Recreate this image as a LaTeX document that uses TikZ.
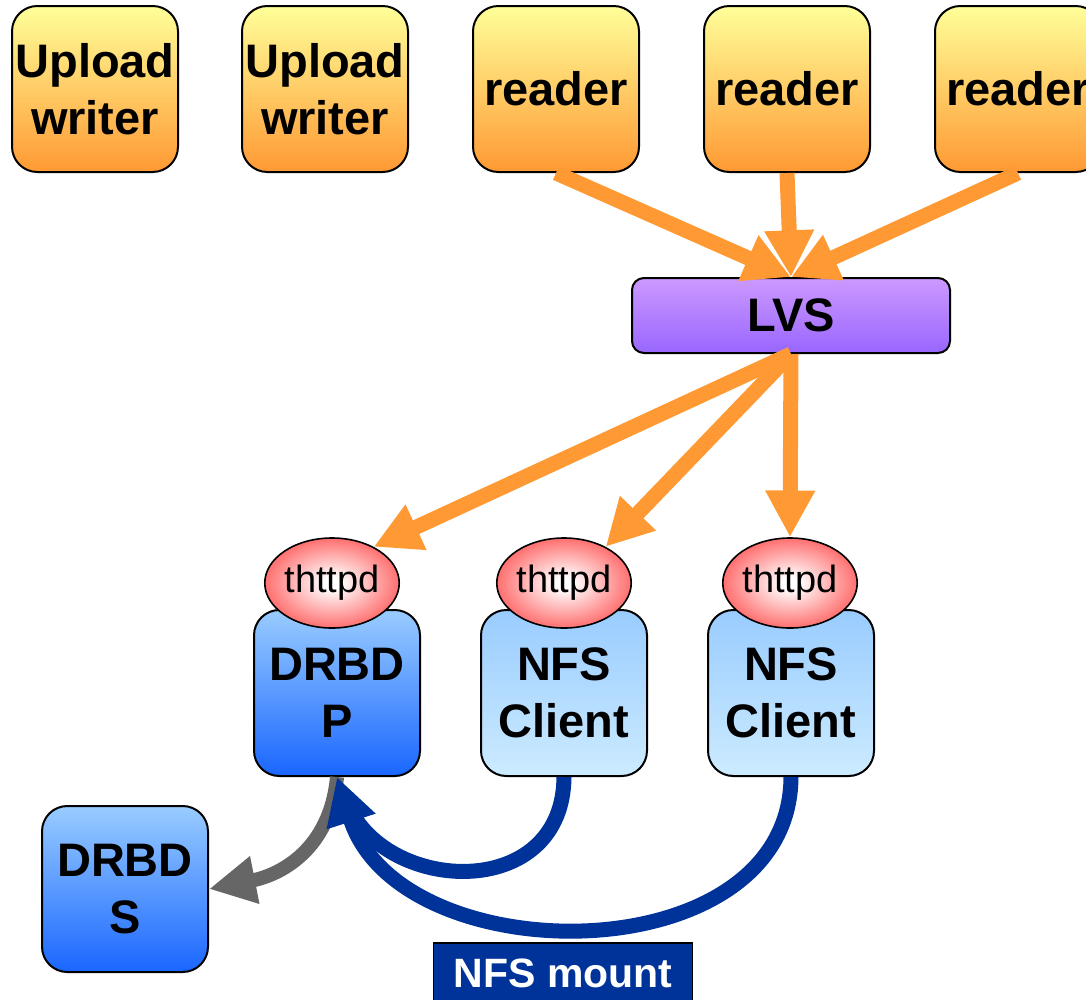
\documentclass[tikz,border=0pt]{standalone}
\usepackage{fontspec}
\setmainfont{Liberation Sans}
\usetikzlibrary{arrows.meta,shapes.geometric}
\definecolor{ytop}{HTML}{FFFF99}
\definecolor{ybot}{HTML}{FF9933}
\definecolor{oarr}{HTML}{FF9933}
\definecolor{ltop}{HTML}{CC99FF}
\definecolor{lbot}{HTML}{9966FF}
\definecolor{btop}{HTML}{99CCFF}
\definecolor{bbot}{HTML}{1A66FF}
\definecolor{ctop}{HTML}{99CCFF}
\definecolor{cbot}{HTML}{CCEBFF}
\definecolor{nblue}{HTML}{003399}
\definecolor{garr}{HTML}{666666}
\definecolor{thred}{HTML}{FF3B3B}
\pgfdeclareradialshading{thball}{\pgfpoint{0bp}{0bp}}{color(0bp)=(white); color(3bp)=(white); color(33bp)=(thred); color(50bp)=(thred)}
\tikzset{
  bigfont/.style={font=\fontsize{35.25}{42.75}\selectfont\bfseries},
  sqbox/.style={draw=black, line width=1.5pt, rounded corners=19pt,
    minimum width=124.5pt, minimum height=124.5pt, inner sep=0pt,
    align=center, bigfont},
  ybox/.style={sqbox, top color=ytop, bottom color=ybot},
  dbox/.style={sqbox, top color=btop, bottom color=bbot},
  cbox/.style={sqbox, top color=ctop, bottom color=cbot},
  lvsbox/.style={draw=black, line width=1.5pt, rounded corners=9pt,
    minimum width=238.5pt, minimum height=56.25pt, inner sep=0pt,
    top color=ltop, bottom color=lbot, bigfont},
  thball/.style={ellipse, draw=black, line width=1.2pt, shading=thball,
    minimum width=81pt, minimum height=67.5pt, inner sep=0pt,
    font=\fontsize{28.5}{34}\selectfont},
  oarrow/.style={draw=oarr, line width=11.25pt,
    -{Triangle[length=35pt,width=35pt]}},
  garrow/.style={draw=garr, line width=10.5pt,
    -{Triangle[length=35pt,width=34pt]}},
  barrow/.style={draw=nblue, line width=11.25pt,
    -{Triangle[length=35pt,width=36pt]}},
  bline/.style={draw=nblue, line width=11.25pt},
  mountlabel/.style={draw=black, line width=0.8pt, fill=nblue, text=white,
    minimum width=194pt, minimum height=45pt, inner sep=0pt,
    font=\fontsize{30.75}{36}\selectfont\bfseries}
}
\begin{document}
\begin{tikzpicture}[x=0.75pt,y=-0.75pt]
\useasboundingbox (0,0) rectangle (1086,1000);
\clip (0,0) rectangle (1086,1000);

% top row
\node[ybox] (w1) at (95,89) {Upload\\writer};
\node[ybox] (w2) at (325,89) {Upload\\writer};
\node[ybox] (r1) at (556,89) {reader};
\node[ybox] (r2) at (787,89) {reader};
\node[ybox] (r3) at (1018,89) {reader};

% LVS
\node[lvsbox] (lvs) at (791,315.5) {LVS};

% servers
\node[dbox] (p) at (337,693) {DRBD\\P};
\node[cbox] (n1) at (564,693) {NFS\\Client};
\node[cbox] (n2) at (791,693) {NFS\\Client};
\node[dbox] (s) at (125,889) {DRBD\\S};

\node[thball] (e1) at (332,583) {thttpd};
\node[thball] (e2) at (564,583) {thttpd};
\node[thball] (e3) at (790,583) {thttpd};

% label
\node[mountlabel] (m) at (563,973) {NFS mount};

% orange arrows
\draw[oarrow] (r1.south) -- (lvs.north);
\draw[oarrow] (r2.south) -- (lvs.north);
\draw[oarrow] (r3.south) -- (lvs.north);
\draw[oarrow] (lvs.south) -- (e1.41);
\draw[oarrow] (lvs.south) -- (e2.41);
\draw[oarrow] (lvs.south) -- (e3.north);

% replication
\draw[garrow] (p.south) .. controls (330,850) and (280,875) .. (s.east);

% NFS mounts
\coordinate (j) at (355,818);
\draw[bline] (n1.south) .. controls (563,895) and (405,895) .. (j);
\draw[barrow] (n2.south) .. controls (790,975) and (400,975) .. (p.south);
\end{tikzpicture}
\end{document}
